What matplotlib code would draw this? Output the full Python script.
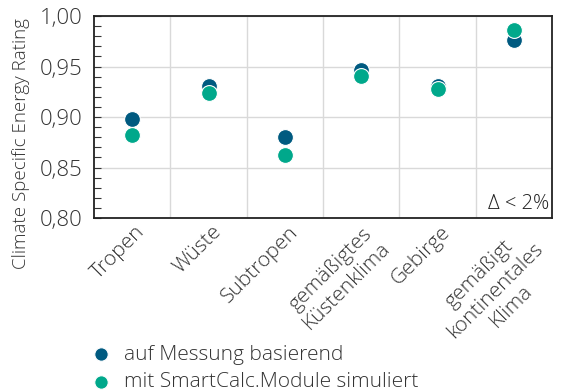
import matplotlib
matplotlib.use("Agg")
import matplotlib.pyplot as plt
import matplotlib.transforms as mtrans
from matplotlib.ticker import MultipleLocator, FuncFormatter

categories = ["Tropen", "Wüste", "Subtropen", "gemäßigtes\nKüstenklima", "Gebirge",
              "gemäßigt\nkontinentales\nKlima"]
measured = [0.898, 0.931, 0.880, 0.947, 0.931, 0.976]
simulated = [0.882, 0.924, 0.862, 0.941, 0.928, 0.986]
series_labels = ["auf Messung basierend", "mit SmartCalc.Module simuliert"]
colors = ["#005A80", "#00A88B"]

plt.rcParams['font.family'] = ['Open Sans', 'DejaVu Sans']
plt.rcParams['font.weight'] = 'light'
plt.rcParams['axes.labelweight'] = 'light'

fig = plt.figure(figsize=(5.63, 3.91), dpi=100)
ax = fig.add_axes([94/563, 1-218/391, (552-94)/563, (218-16)/391])

x = list(range(len(categories)))
ax.scatter(x, measured, s=130, color=colors[0], edgecolor="white", linewidth=0.8, zorder=3,
           label=series_labels[0])
ax.scatter(x, simulated, s=130, color=colors[1], edgecolor="white", linewidth=0.8, zorder=4,
           label=series_labels[1])

ax.set_xlim(-0.5, len(categories) - 0.5)
ax.set_ylim(0.80, 1.00)
ax.yaxis.set_major_locator(MultipleLocator(0.05))
ax.yaxis.set_minor_locator(MultipleLocator(0.01))
ax.yaxis.set_major_formatter(FuncFormatter(lambda v, p: f"{v:.2f}".replace(".", ",")))
ax.tick_params(axis='y', which='both', direction='in', length=5, width=0.8, color="#333333",
               labelsize=16, labelcolor="#333333", pad=8)
ax.tick_params(axis='x', length=0, labelsize=15, labelcolor="#333333", pad=3)

ax.set_xticks(x)
ax.set_xticklabels(categories, rotation=45, ha='right', rotation_mode='anchor',
                   multialignment='center')
offset = mtrans.ScaledTranslation(3/100, 0, fig.dpi_scale_trans)
for lab in ax.get_xticklabels():
    lab.set_transform(lab.get_transform() + offset)
ax.set_xticks([i + 0.5 for i in x[:-1]], minor=True)
ax.grid(True, which='major', axis='y', color="#d9d9d9", linewidth=1)
ax.grid(True, which='minor', axis='x', color="#d9d9d9", linewidth=1)
ax.tick_params(axis='x', which='minor', length=0)
ax.set_axisbelow(True)

for s in ax.spines.values():
    s.set_linewidth(1.3)
    s.set_color("#222222")

ax.set_ylabel("Climate Specific Energy Rating", fontsize=13.5, color="#333333",
              fontweight='light')
ax.yaxis.set_label_coords(-0.14, 0.37)
ax.text(0.995, 0.02, "Δ < 2%", transform=ax.transAxes, ha='right', va='bottom',
        fontsize=14.5, color="#222222")

fig.legend(loc='lower left', bbox_to_anchor=(0.12, -0.035), frameon=False, fontsize=15,
           handletextpad=0.1, labelspacing=0.35, markerscale=0.85, borderaxespad=0.2,
           labelcolor="#333333")

fig.savefig("out.png", dpi=100)
